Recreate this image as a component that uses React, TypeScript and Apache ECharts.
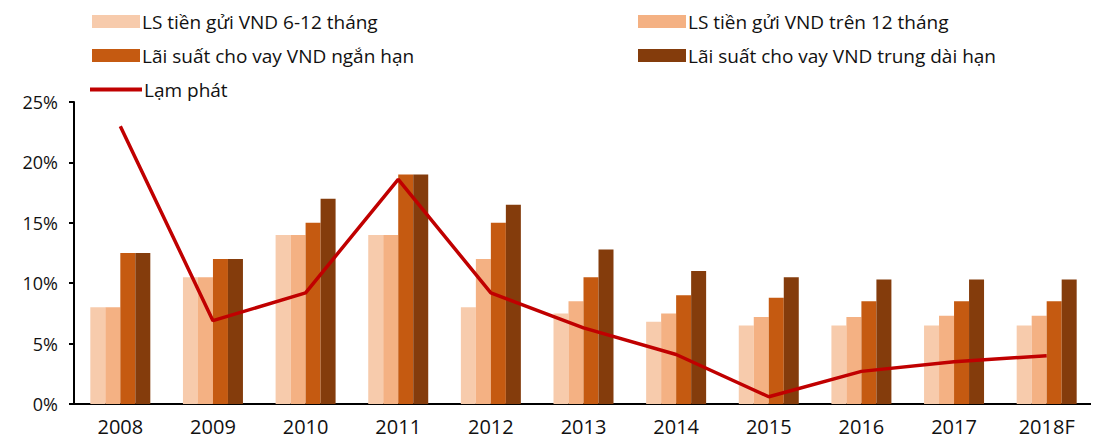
import React, { useEffect, useRef } from "react";
import * as echarts from "echarts";

const categories = ["2008", "2009", "2010", "2011", "2012", "2013", "2014", "2015", "2016", "2017", "2018F"];
const depositShort = [8.0, 10.5, 14.0, 14.0, 8.0, 7.5, 6.8, 6.5, 6.5, 6.5, 6.5];
const depositLong = [8.0, 10.5, 14.0, 14.0, 12.0, 8.5, 7.5, 7.2, 7.2, 7.3, 7.3];
const lendShort = [12.5, 12.0, 15.0, 19.0, 15.0, 10.5, 9.0, 8.8, 8.5, 8.5, 8.5];
const lendLong = [12.5, 12.0, 17.0, 19.0, 16.5, 12.8, 11.0, 10.5, 10.3, 10.3, 10.3];
const inflation = [23.0, 6.9, 9.2, 18.6, 9.2, 6.3, 4.1, 0.6, 2.7, 3.5, 4.0];

const names = [
  "LS tiền gửi VND 6-12 tháng",
  "LS tiền gửi VND trên 12 tháng",
  "Lãi suất cho vay VND ngắn hạn",
  "Lãi suất cho vay VND trung dài hạn",
  "Lạm phát",
];
const colors = ["#F7CBAC", "#F4B183", "#C55A11", "#843C0C", "#C00000"];

const FONT = "Open Sans";

export default function App() {
  const ref = useRef<HTMLDivElement>(null);
  useEffect(() => {
    if (!ref.current) return;
    const chart = echarts.init(ref.current, undefined, { renderer: "svg" });
    const legendBase = {
      orient: "horizontal",
      itemWidth: 48,
      itemHeight: 13,
      itemGap: 10,
      textStyle: { fontFamily: FONT, fontSize: 19, color: "#111", padding: [0, 0, 0, -3] },
      selectedMode: false,
      padding: 0,
    };
    const barSeries = [depositShort, depositLong, lendShort, lendLong].map((d, i) => ({
      name: names[i],
      type: "bar",
      data: d,
      barWidth: 15,
      barGap: "0%",
      itemStyle: { color: colors[i] },
    }));
    chart.setOption({
      animation: false,
      legend: [
        { ...legendBase, left: 92, top: 12, data: [{ name: names[0], icon: "rect" }] },
        { ...legendBase, left: 638, top: 12, data: [{ name: names[1], icon: "rect" }] },
        { ...legendBase, left: 92, top: 46, data: [{ name: names[2], icon: "rect" }] },
        { ...legendBase, left: 638, top: 46, data: [{ name: names[3], icon: "rect" }] },
        {
          ...legendBase,
          left: 90,
          top: 80,
          itemWidth: 52,
          itemHeight: 4,
          data: [{ name: names[4], icon: "rect" }],
        },
      ],
      grid: { left: 74, right: 6, top: 102, bottom: 39 },
      xAxis: {
        type: "category",
        data: categories,
        axisLine: { lineStyle: { color: "#000", width: 2 } },
        axisTick: { show: false },
        axisLabel: { fontFamily: FONT, fontSize: 20, color: "#111", margin: 12 },
      },
      yAxis: {
        type: "value",
        min: 0,
        max: 25,
        interval: 5,
        splitLine: { show: false },
        axisLine: { show: true, lineStyle: { color: "#000", width: 2 } },
        axisTick: { show: true, length: 5, lineStyle: { color: "#000", width: 2 } },
        axisLabel: {
          fontFamily: FONT,
          fontSize: 18,
          color: "#111",
          margin: 16,
          formatter: "{value}%",
        },
      },
      series: [
        ...barSeries,
        {
          name: names[4],
          type: "line",
          data: inflation,
          symbol: "none",
          lineStyle: { color: colors[4], width: 3.5 },
          itemStyle: { color: colors[4] },
          z: 5,
        },
      ],
    });
    return () => chart.dispose();
  }, []);
  return <div ref={ref} style={{ width: 1099, height: 443, margin: -8 }} />;
}
